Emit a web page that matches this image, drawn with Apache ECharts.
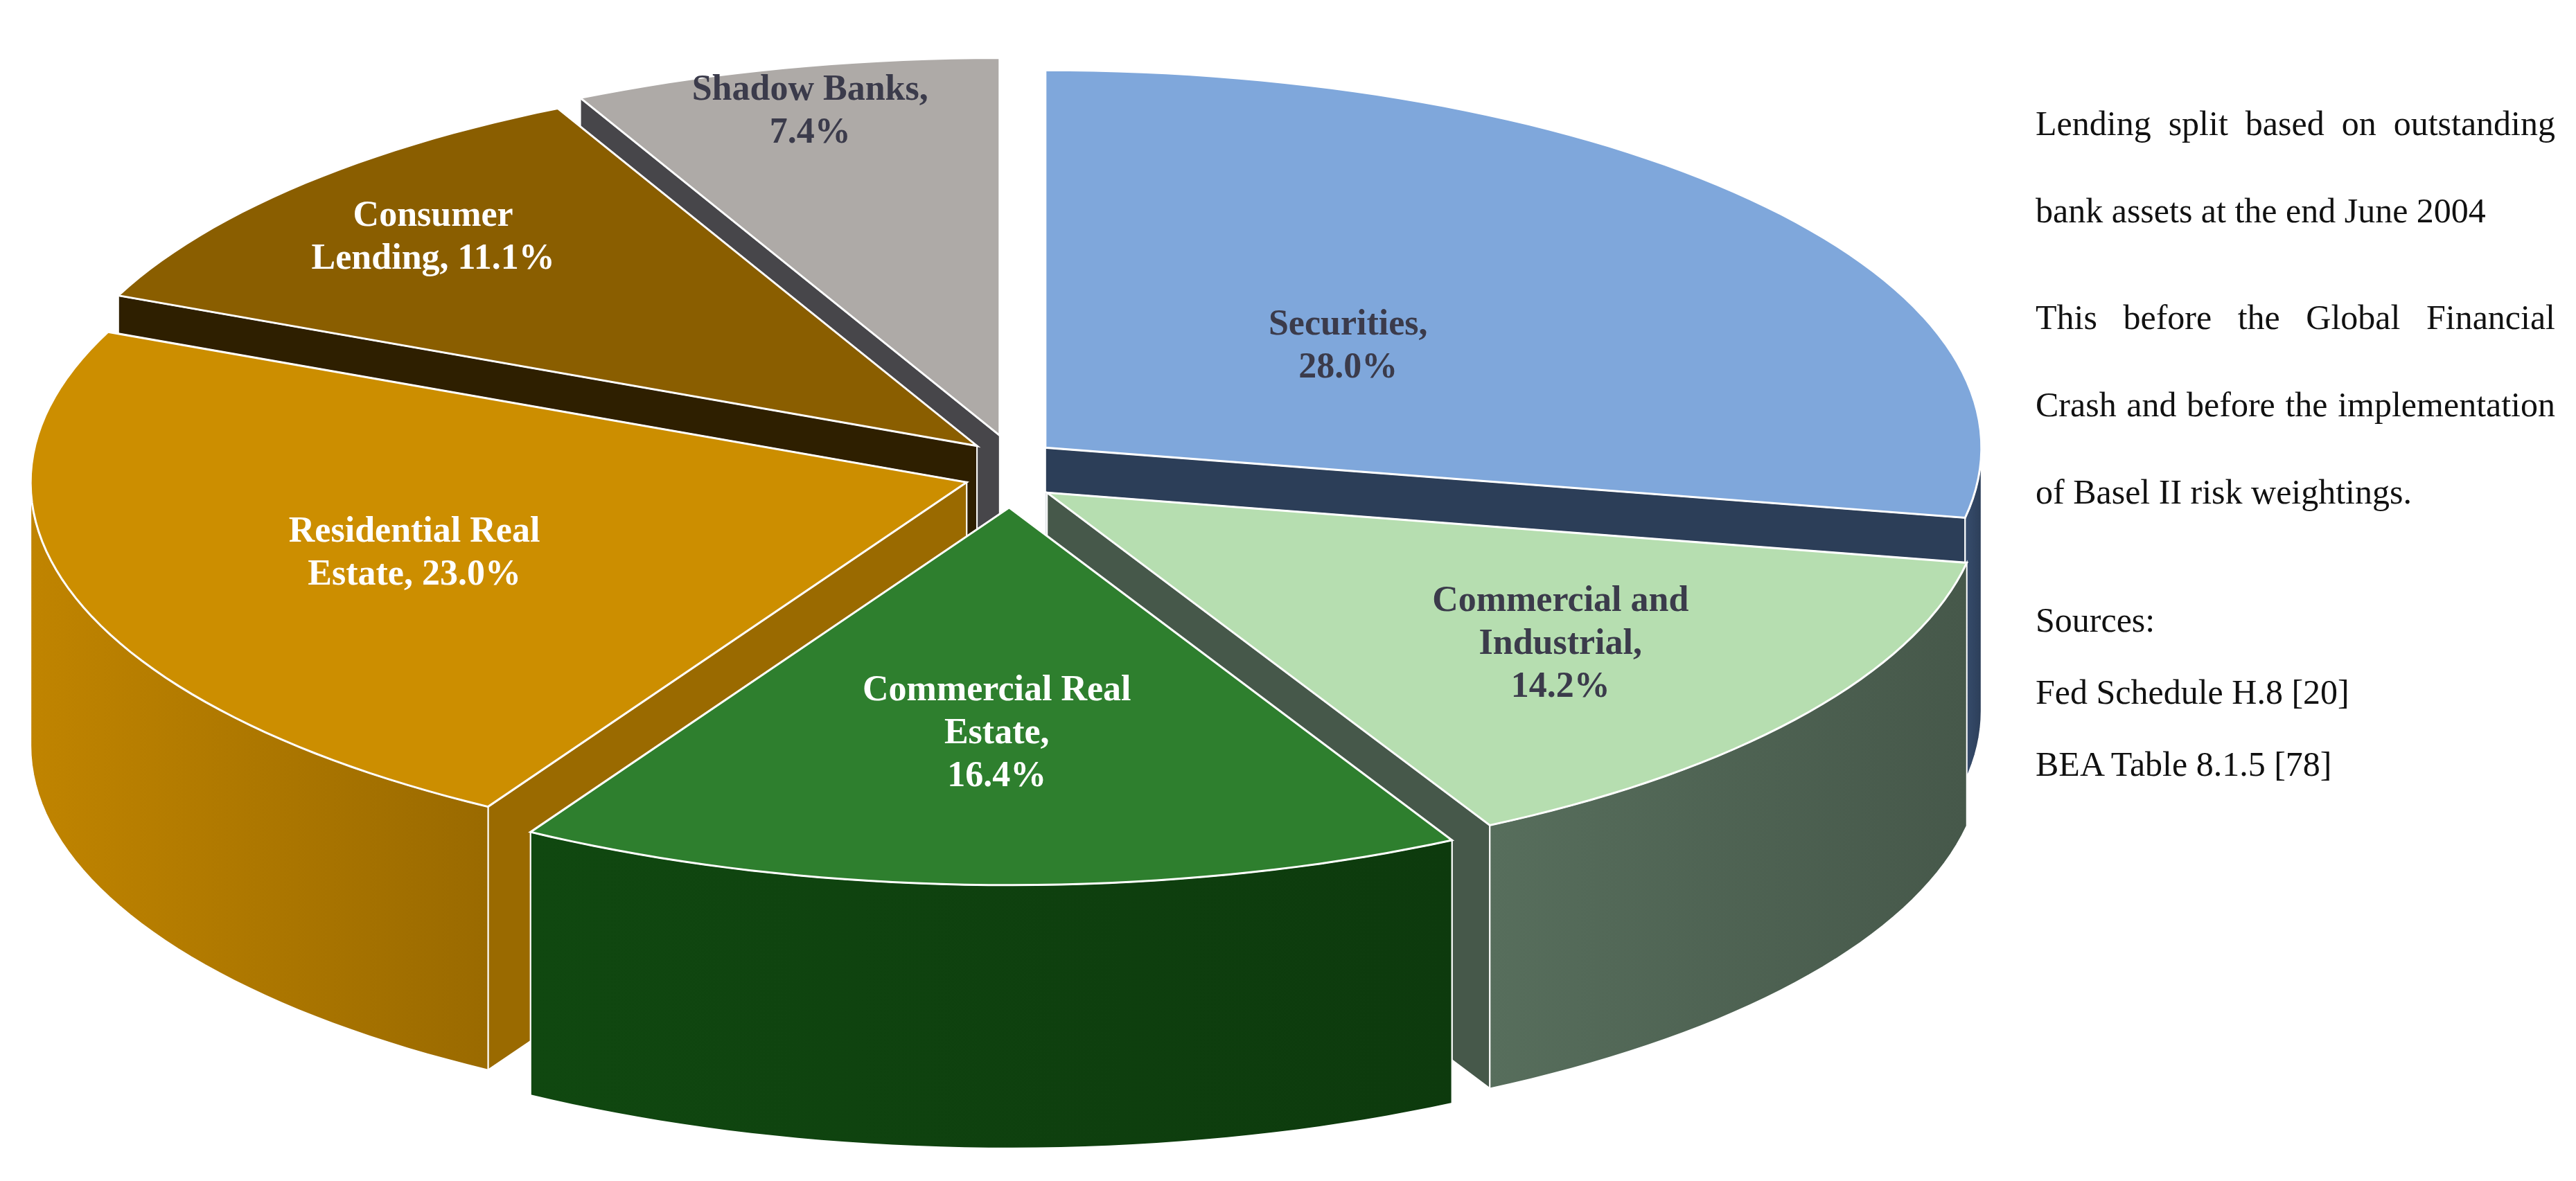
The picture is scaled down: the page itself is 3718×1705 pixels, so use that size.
<!DOCTYPE html>
<html>
<head>
<meta charset="utf-8">
<script src="https://cdn.jsdelivr.net/npm/echarts@6/dist/echarts.min.js"></script>
<style>
  html, body { margin: 0; padding: 0; background: #fff; }
  #chart { position: absolute; left: 0; top: 0; width: 3718px; height: 1705px; }
  #note {
    position: absolute; left: 2938px; top: 115px; width: 750px;
    font-family: "Liberation Serif", "DejaVu Serif", serif; font-size: 50px;
    line-height: 126px; color: #111; text-align: justify;
  }
  #note p { margin: 0 0 28px 0; }
  #note p.src { margin: 0; margin-top: 70px; text-align: left; line-height: 104px; }
</style>
</head>
<body>
<div id="chart"></div>
<div id="note">
  <p>Lending split based on outstanding bank assets at the end June 2004</p>
  <p>This before the Global Financial Crash and before the implementation of Basel II risk weightings.</p>
  <p class="src">Sources:<br>Fed Schedule H.8 [20]<br>BEA Table 8.1.5 [78]</p>
</div>
<script>
var categories = ['Securities', 'Commercial and Industrial', 'Commercial Real Estate',
                  'Residential Real Estate', 'Consumer Lending', 'Shadow Banks'];
var labels = ['Securities,\n28.0%', 'Commercial and\nIndustrial,\n14.2%', 'Commercial Real\nEstate,\n16.4%',
              'Residential Real\nEstate, 23.0%', 'Consumer\nLending, 11.1%', 'Shadow Banks,\n7.4%'];
var values = [28.0, 14.2, 16.4, 23.0, 11.1, 7.4];
var topColors = ['#7fa7db', '#b6deb0', '#2e7f2e', '#cc8e00', '#8a5e00', '#aeaaa7'];
var sideColors = ['#2c3e58', '#46584a', '#0d3a0d', '#9a6a00', '#2e1f00', '#47464a'];
var labelColors = ['#3b3b4b', '#3b3b4b', '#ffffff', '#ffffff', '#ffffff', '#3b3b4b'];
var labelRadius = [0.42, 0.68, 0.6, 0.62, 0.8, 0.88];

// geometry (pixels)
var CX = 1458, CY = 680, RX = 1351, RY = 545, DEPTH = 380, EXPLODE = 66;
var total = values.reduce(function (a, b) { return a + b; }, 0);
var starts = [];
var acc = 0;
values.forEach(function (v) { starts.push(acc / total * 360); acc += v; });

function rad(d) { return d * Math.PI / 180; }
function sliceInfo(i) {
  var a0 = starts[i], a1 = a0 + values[i] / total * 360, mid = (a0 + a1) / 2;
  var ox = CX + EXPLODE * Math.sin(rad(mid)), oy = CY - EXPLODE * Math.cos(rad(mid)) * 0.8;
  return { a0: a0, a1: a1, mid: mid, ox: ox, oy: oy };
}
function edge(s, a, r) {
  r = r == null ? 1 : r;
  return [s.ox + RX * r * Math.sin(rad(a)), s.oy - RY * r * Math.cos(rad(a))];
}
function arc(s, a0, a1, dy) {
  var pts = [], n = Math.max(2, Math.ceil((a1 - a0) / 1.5));
  for (var k = 0; k <= n; k++) {
    var p = edge(s, a0 + (a1 - a0) * k / n);
    pts.push([p[0], p[1] + (dy || 0)]);
  }
  return pts;
}
function avgY(pts) { return pts.reduce(function (t, p) { return t + p[1]; }, 0) / pts.length; }

function renderWalls(params, api) {
  var i = api.value(0), s = sliceInfo(i), children = [];
  [s.a0, s.a1].forEach(function (a) {
    var e = edge(s, a);
    var pts = [[s.ox, s.oy], e, [e[0], e[1] + DEPTH], [s.ox, s.oy + DEPTH]];
    children.push({ type: 'polygon', z2: Math.round(avgY(pts)),
      shape: { points: pts },
      style: { fill: sideColors[i], stroke: '#ffffff', lineWidth: 2 } });
  });
  var f0 = Math.max(s.a0, 90), f1 = Math.min(s.a1, 270);
  if (f1 > f0) {
    var topPts = arc(s, f0, f1, 0), bot = arc(s, f0, f1, DEPTH).reverse();
    var pts = topPts.concat(bot);
    children.push({ type: 'polygon', z2: Math.round(avgY(pts)) + 400,
      shape: { points: pts },
      style: { fill: new echarts.graphic.LinearGradient(1, 0, 0, 0, [
        { offset: 0, color: sideColors[i] },
        { offset: 1, color: echarts.color.lift(sideColors[i], -0.25) }]),
        stroke: '#ffffff', lineWidth: 2 } });
  }
  return { type: 'group', children: children };
}

function renderTop(params, api) {
  var i = api.value(0), s = sliceInfo(i);
  var pts = [[s.ox, s.oy]].concat(arc(s, s.a0, s.a1, 0));
  var lp = edge(s, s.mid, labelRadius[i]);
  return { type: 'group', children: [
    { type: 'polygon', shape: { points: pts },
      style: { fill: topColors[i], stroke: '#ffffff', lineWidth: 3 } },
    { type: 'text', z2: 10, style: { x: lp[0], y: lp[1], text: labels[i],
      fill: labelColors[i], align: 'center', verticalAlign: 'middle',
      font: 'bold 52px "Liberation Serif", serif', lineHeight: 62 } }
  ] };
}

var idx = categories.map(function (c, i) { return [i]; });
var chart = echarts.init(document.getElementById('chart'));
chart.setOption({
  animation: false,
  series: [
    { type: 'custom', coordinateSystem: 'none', z: 1, data: idx, renderItem: renderWalls },
    { type: 'custom', coordinateSystem: 'none', z: 2, data: idx, renderItem: renderTop }
  ]
});
</script>
</body>
</html>
